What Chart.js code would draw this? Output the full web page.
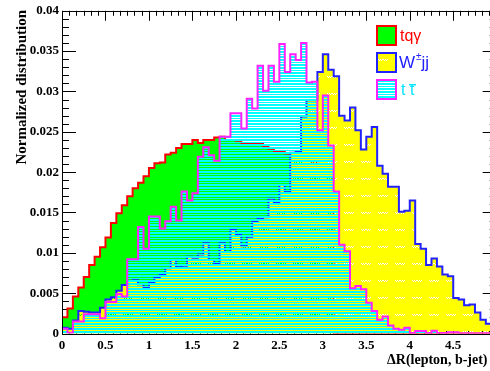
<!DOCTYPE html>
<html>
<head>
<meta charset="utf-8">
<script src="https://cdn.jsdelivr.net/npm/chart.js@4.4.1/dist/chart.umd.min.js"></script>
<style>
  html, body { margin: 0; padding: 0; background: #fff; overflow: hidden; }
  #wrap { width: 500px; height: 371px; }
</style>
</head>
<body>
<div id="wrap"><canvas id="c" width="500" height="371"></canvas></div>
<script>
// histogram range, 80 bins
const xMin = 0, xMax = 5, nBins = 80;

// tq gamma (red line, green fill)
const tqgamma = [
  0.0008, 0.0020, 0.0031, 0.0046, 0.0057, 0.0070, 0.0085, 0.0095, 0.0107, 0.0119,
  0.0137, 0.0149, 0.0159, 0.0170, 0.0180, 0.0187, 0.0195, 0.0205, 0.0211, 0.0212,
  0.0222, 0.0224, 0.0230, 0.0235, 0.0235, 0.0240, 0.0236, 0.0240, 0.0240, 0.0243,
  0.0244, 0.0240, 0.0240, 0.0239, 0.0235, 0.0235, 0.0235, 0.0235, 0.0232, 0.0229,
  0.0226, 0.0226, 0.0223, 0.0222, 0.0220, 0.0218, 0.0215, 0.0213, 0.0210, 0.0208,
  0.0205, 0, 0, 0, 0, 0, 0, 0, 0, 0,
  0, 0, 0, 0, 0, 0, 0, 0, 0, 0,
  0, 0, 0, 0, 0, 0, 0, 0, 0, 0
];

// W+-jj (blue line, yellow fill)
const wjj = [
  0.0003, 0.0007, 0.0006, 0.0016, 0.0028, 0.0027, 0.0026, 0.0026, 0.0032, 0.0042,
  0.0045, 0.0053, 0.0060, 0.0065, 0.0066, 0.0061, 0.0057, 0.0063, 0.0070, 0.0073,
  0.0081, 0.0091, 0.0082, 0.0084, 0.0095, 0.0094, 0.0098, 0.0112, 0.0091, 0.0086,
  0.0112, 0.0101, 0.0129, 0.0122, 0.0108, 0.0120, 0.0139, 0.0142, 0.0144, 0.0167,
  0.0163, 0.0184, 0.0175, 0.0224, 0.0225, 0.0269, 0.0289, 0.0289, 0.0324, 0.0346,
  0.0327, 0.0319, 0.0270, 0.0264, 0.0280, 0.0252, 0.0228, 0.0244, 0.0256, 0.0208,
  0.0198, 0.0182, 0.0182, 0.0151, 0.0152, 0.0165, 0.0111, 0.0105, 0.0085, 0.0093,
  0.0083, 0.0073, 0.0071, 0.0044, 0.0042, 0.0035, 0.0036, 0.0026, 0.0017, 0.0012
];

// t tbar (magenta line, cyan hatch)
const ttbar = [
  0.0005, 0.0006, 0.0001, 0.0015, 0.0015, 0.0024, 0.0024, 0.0024, 0.0019, 0.0039,
  0.0039, 0.0049, 0.0046, 0.0092, 0.0092, 0.0132, 0.0105, 0.0145, 0.0145, 0.0130,
  0.0139, 0.0157, 0.0140, 0.0176, 0.0165, 0.0174, 0.0219, 0.0231, 0.0221, 0.0214,
  0.0244, 0.0244, 0.0273, 0.0273, 0.0254, 0.0291, 0.0279, 0.0332, 0.0301, 0.0332,
  0.0312, 0.0359, 0.0324, 0.0346, 0.0339, 0.0360, 0.0311, 0.0312, 0.0252, 0.0295,
  0.0233, 0.0176, 0.0110, 0.0102, 0.0056, 0.0059, 0.0055, 0.0038, 0.0028, 0.0017,
  0.0021, 0.0010, 0.0006, 0.00045, 0.0007, 0.00005, 0.0003, 0.0003, 0.00005, 0.00035,
  0.00005, 0.00005, 0.00015, 0.00015, 0.00002, 0.00002, 0.00002, 0.00002, 0.00002, 0.00002
];

const xTicks = [0, 0.5, 1, 1.5, 2, 2.5, 3, 3.5, 4, 4.5];
const yTicks = [0, 0.005, 0.01, 0.015, 0.02, 0.025, 0.03, 0.035, 0.04];
const legendLabels = ['tq\u03b3', 'W\u00b1jj', 't t\u0304'];

const binLow = Array.from({ length: nBins }, (_, i) => xMin + i * (xMax - xMin) / nBins);

function histPoints(values) {
  const pts = values.map((v, i) => ({ x: binLow[i], y: v }));
  pts.push({ x: xMax, y: values[values.length - 1] });
  return pts;
}

const ctx = document.getElementById('c').getContext('2d');

// horizontal cyan hatching, transparent between lines
function hatchPattern() {
  const c = document.createElement('canvas');
  c.width = 8; c.height = 8;
  const g = c.getContext('2d');
  g.fillStyle = '#00ffff';
  [0, 1, 3, 4, 6].forEach(r => g.fillRect(0, r, 8, 1));
  return ctx.createPattern(c, 'repeat');
}

// yellow with little "ww" holes
function yellowPattern() {
  const c = document.createElement('canvas');
  c.width = 17; c.height = 17;
  const g = c.getContext('2d');
  g.fillStyle = '#ffff00';
  g.fillRect(0, 0, 17, 17);
  [[4, 8], [6, 8], [8, 8], [9, 8], [11, 8], [13, 8],
   [5, 9], [7, 9], [10, 9], [12, 9]].forEach(p => g.clearRect(p[0], p[1], 1, 1));
  return ctx.createPattern(c, 'repeat');
}

const serifBold = '"Liberation Serif", "Times New Roman", serif';
const sans = '"Liberation Sans", Arial, sans-serif';

function drawTicks(chart) {
  const { ctx, chartArea: a, scales: { x, y } } = chart;
  ctx.save();
  ctx.strokeStyle = '#000';
  ctx.lineWidth = 1;
  ctx.beginPath();
  for (let i = 0; i <= 40; i++) {
    const v = i * 0.001;
    const py = Math.round(y.getPixelForValue(v)) + 0.5;
    const len = i % 5 === 0 ? 14 : 7;
    ctx.moveTo(a.left, py); ctx.lineTo(a.left + len, py);
    ctx.moveTo(a.right, py); ctx.lineTo(a.right - len, py);
  }
  for (let i = 0; i <= 60; i++) {
    const v = i * 0.5 / 6;
    const px = Math.round(x.getPixelForValue(v)) + 0.5;
    const len = i % 6 === 0 ? 10 : 5;
    ctx.moveTo(px, a.top); ctx.lineTo(px, a.top + len);
    ctx.moveTo(px, a.bottom); ctx.lineTo(px, a.bottom - len);
  }
  ctx.stroke();
  ctx.restore();
}

function drawFrame(chart) {
  const { ctx, chartArea: a } = chart;
  ctx.save();
  ctx.strokeStyle = '#000';
  ctx.lineWidth = 1;
  ctx.strokeRect(Math.round(a.left) + 0.5, Math.round(a.top) + 0.5,
                 Math.round(a.right - a.left), Math.round(a.bottom - a.top));
  ctx.restore();
}

function drawTitles(chart) {
  const ctx = chart.ctx;
  ctx.save();
  ctx.fillStyle = '#000';
  ctx.font = 'bold 15px ' + serifBold;
  ctx.translate(22, 10);
  ctx.rotate(-Math.PI / 2);
  ctx.textAlign = 'right';
  ctx.textBaseline = 'middle';
  ctx.fillText('Normalized distribution', 0, 0);
  ctx.restore();

  ctx.save();
  ctx.fillStyle = '#000';
  ctx.font = 'bold 14px ' + serifBold;
  ctx.textAlign = 'left';
  ctx.textBaseline = 'alphabetic';
  ctx.fillText('\u0394R(lepton, b-jet)', 387, 364);
  ctx.restore();
}

function drawLegend(chart) {
  const ctx = chart.ctx;
  const ds = chart.data.datasets;
  const bx = 377, by = 26, box = 19, gap = 27;
  ctx.save();
  ds.forEach((d, i) => {
    const y = by + i * gap;
    ctx.fillStyle = '#fff';
    ctx.fillRect(bx, y, box, box);
    ctx.fillStyle = d.backgroundColor;
    ctx.fillRect(bx, y, box, box);
    ctx.lineWidth = 2;
    ctx.strokeStyle = d.borderColor;
    ctx.strokeRect(bx, y, box, box);
  });
  ctx.textBaseline = 'alphabetic';
  ctx.textAlign = 'left';
  // tq gamma
  ctx.fillStyle = '#ff0000';
  ctx.font = '16px ' + sans;
  ctx.fillText(legendLabels[0], 400, 41);
  // W+-jj with superscript
  ctx.fillStyle = '#2222ff';
  ctx.font = '17px ' + sans;
  ctx.fillText('W', 399, 68);
  const w = ctx.measureText('W').width;
  ctx.font = '10px ' + sans;
  ctx.fillText('\u00b1', 400 + w, 60);
  const pm = ctx.measureText('\u00b1').width;
  ctx.font = '17px ' + sans;
  ctx.fillText('jj', 400 + w + pm, 68);
  // t tbar
  ctx.fillStyle = '#00e5ff';
  ctx.font = '16px ' + sans;
  ctx.fillText('t', 401, 95);
  ctx.fillText('t', 410, 95);
  ctx.fillRect(409, 84, 7, 1.5);
  ctx.restore();
}

const rootStyle = {
  id: 'rootStyle',
  beforeDatasetsDraw(chart) { drawTicks(chart); },
  afterDatasetsDraw(chart) { drawFrame(chart); },
  afterDraw(chart) { drawTitles(chart); drawLegend(chart); }
};

new Chart(ctx, {
  type: 'line',
  data: {
    datasets: [
      {
        label: legendLabels[0],
        data: histPoints(tqgamma),
        stepped: 'after',
        borderColor: '#ff0000',
        backgroundColor: '#00ff00',
        borderWidth: 2,
        fill: 'origin',
        order: 3
      },
      {
        label: legendLabels[1],
        data: histPoints(wjj),
        stepped: 'after',
        borderColor: '#2222ff',
        backgroundColor: yellowPattern(),
        borderWidth: 2,
        fill: 'origin',
        order: 2
      },
      {
        label: legendLabels[2],
        data: histPoints(ttbar),
        stepped: 'after',
        borderColor: '#ff22ff',
        backgroundColor: hatchPattern(),
        borderWidth: 2,
        fill: 'origin',
        order: 1
      }
    ]
  },
  options: {
    responsive: false,
    animation: false,
    events: [],
    layout: { padding: { top: 10.5, right: 3.3, left: 0, bottom: 0 } },
    elements: { point: { radius: 0 }, line: { tension: 0, borderJoinStyle: 'miter' } },
    plugins: { legend: { display: false }, tooltip: { enabled: false } },
    scales: {
      x: {
        type: 'linear',
        min: xMin,
        max: xMax,
        grid: { display: false, drawTicks: false },
        border: { display: false },
        afterBuildTicks: s => { s.ticks = xTicks.map(v => ({ value: v })); },
        afterFit: s => { s.height = 37.5; },
        ticks: {
          autoSkip: false,
          maxRotation: 0,
          padding: 4,
          color: '#000',
          font: { family: serifBold, weight: 'bold', size: 13 },
          callback: v => String(v)
        }
      },
      y: {
        min: 0,
        max: 0.04,
        grid: { display: false, drawTicks: false },
        border: { display: false },
        afterBuildTicks: s => { s.ticks = yTicks.map(v => ({ value: v })); },
        afterFit: s => { s.width = 62; },
        ticks: {
          padding: 3,
          color: '#000',
          font: { family: serifBold, weight: 'bold', size: 13 },
          callback: v => String(+v.toFixed(3))
        }
      }
    }
  },
  plugins: [rootStyle]
});
</script>
</body>
</html>
